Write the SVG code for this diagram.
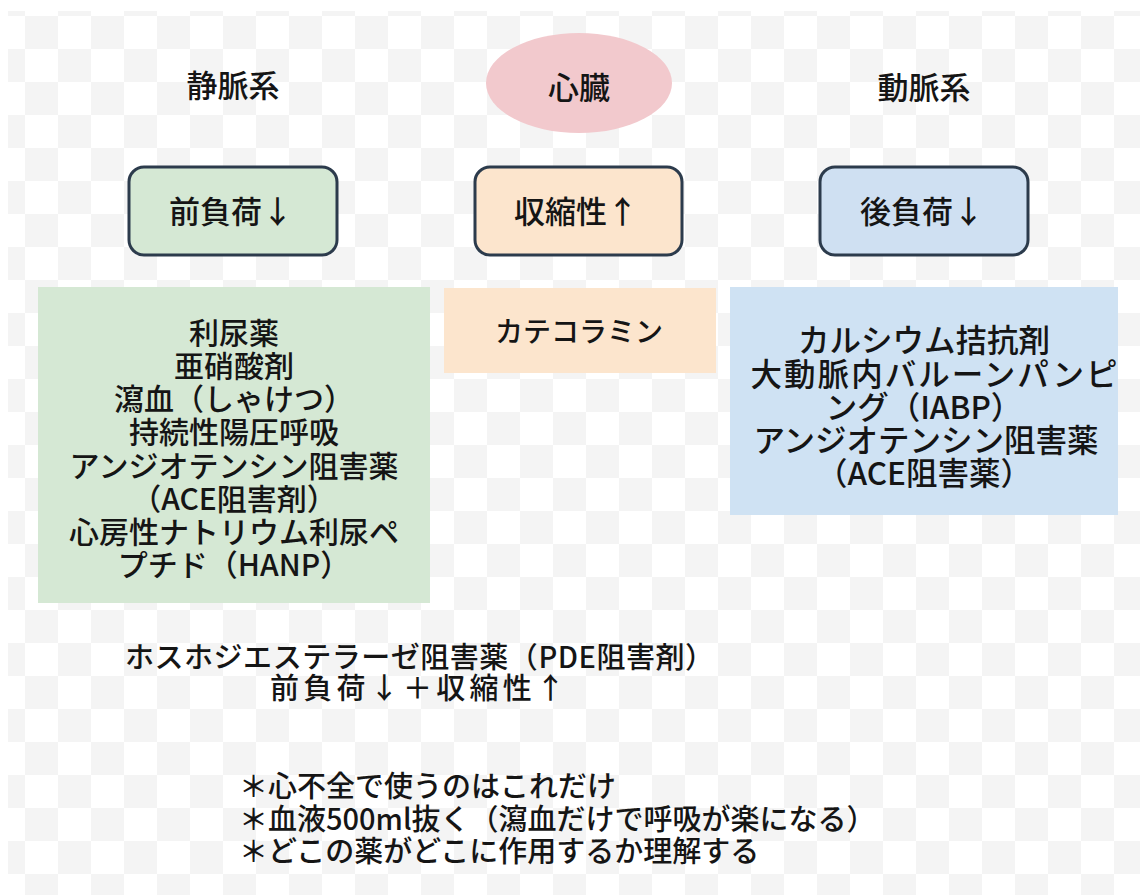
<svg xmlns="http://www.w3.org/2000/svg" width="1140" height="895" viewBox="0 0 1140 895">
  <style>
    text { font-family: "Noto Sans CJK JP", "Liberation Sans", sans-serif; fill: #151515; font-weight: 500; }
    .title { font-size: 31px; text-anchor: middle; }
    .label { font-size: 31px; text-anchor: middle; }
    .green-t { font-size: 30px; text-anchor: middle; }
    .blue-t { font-size: 31.5px; text-anchor: middle; }
    .note { font-size: 29px; }
    .box { stroke: #2c3b4c; stroke-width: 3; }
  </style>
  <defs>
    <pattern id="checker" x="-8" y="-17" width="66" height="66" patternUnits="userSpaceOnUse">
      <rect x="0" y="0" width="66" height="66" fill="#ffffff"/>
      <rect x="0" y="0" width="33" height="33" fill="#f4f4f4"/>
      <rect x="33" y="33" width="33" height="33" fill="#f4f4f4"/>
    </pattern>
  </defs>
  <rect x="0" y="0" width="1140" height="895" fill="#ffffff"/>
  <rect x="8" y="11" width="1132" height="884" fill="url(#checker)"/>

  <g id="connectors"></g>

  <g id="title-vein">
    <text class="title" x="233" y="97">静脈系</text>
  </g>
  <g id="heart">
    <ellipse cx="579" cy="83" rx="93" ry="50" fill="#f2c9cd"/>
    <text class="title" x="579" y="99">心臓</text>
  </g>
  <g id="title-artery">
    <text class="title" x="924" y="99">動脈系</text>
  </g>

  <g id="preload">
    <rect class="box" x="129" y="167" width="208" height="88" rx="15" fill="#d5e8d4"/>
    <text class="label" x="231" y="223">前負荷↓</text>
  </g>
  <g id="contractility">
    <rect class="box" x="475" y="167" width="207" height="88" rx="15" fill="#fce5cd"/>
    <text class="label" x="576" y="223">収縮性↑</text>
  </g>
  <g id="afterload">
    <rect class="box" x="820" y="167" width="208" height="88" rx="15" fill="#cfe0f2"/>
    <text class="label" x="922" y="223">後負荷↓</text>
  </g>

  <g id="preload-drugs">
    <rect x="38" y="287" width="392" height="316" fill="#d5e8d4"/>
    <text class="green-t" x="234" y="344">利尿薬</text>
    <text class="green-t" x="234" y="377">亜硝酸剤</text>
    <text class="green-t" x="234" y="410">瀉血（しゃけつ）</text>
    <text class="green-t" x="234" y="443">持続性陽圧呼吸</text>
    <text class="green-t" x="234" y="477">アンジオテンシン阻害薬</text>
    <text class="green-t" x="234" y="510">（ACE阻害剤）</text>
    <text class="green-t" x="234" y="543">心房性ナトリウム利尿ペ</text>
    <text class="green-t" x="234" y="576">プチド（HANP）</text>
  </g>

  <g id="contractility-drugs">
    <rect x="444" y="288" width="272" height="85" fill="#fce5cd"/>
    <text x="579" y="342" style="font-size:28px;text-anchor:middle">カテコラミン</text>
  </g>

  <g id="afterload-drugs">
    <rect x="730" y="287" width="388" height="228" fill="#cfe2f3"/>
    <text class="blue-t" x="924" y="352">カルシウム拮抗剤</text>
    <text class="blue-t" x="934" y="386" textLength="367" lengthAdjust="spacing">大動脈内バルーンパンピ</text>
    <text class="blue-t" x="924" y="419">ング（IABP）</text>
    <text class="blue-t" x="926" y="452">アンジオテンシン阻害薬</text>
    <text class="blue-t" x="924" y="485">（ACE阻害薬）</text>
  </g>

  <g id="pde">
    <text class="note" x="125" y="668" textLength="589" lengthAdjust="spacing">ホスホジエステラーゼ阻害薬（PDE阻害剤）</text>
    <text class="note" x="270" y="699" textLength="295" lengthAdjust="spacing">前負荷↓＋収縮性↑</text>
  </g>

  <g id="notes">
    <text class="note" x="239" y="797">＊心不全で使うのはこれだけ</text>
    <text class="note" x="239" y="830">＊血液500ml抜く（瀉血だけで呼吸が楽になる）</text>
    <text class="note" x="239" y="862">＊どこの薬がどこに作用するか理解する</text>
  </g>
</svg>
